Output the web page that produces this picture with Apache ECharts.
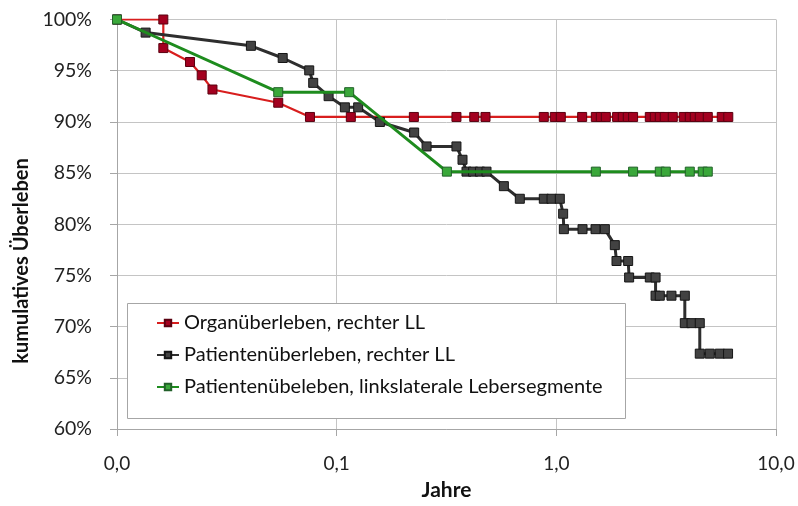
<!DOCTYPE html>
<html>
<head>
<meta charset="utf-8">
<script src="https://cdn.jsdelivr.net/npm/echarts@6/dist/echarts.min.js"></script>
<style>
html,body{margin:0;padding:0;background:#fff;}
#c{width:798px;height:506px;}
</style>
</head>
<body>
<div id="c"></div>
<script>
// ---- data ----
const seriesNames = [
  'Organüberleben, rechter LL',
  'Patientenüberleben, rechter LL',
  'Patientenübeleben, linkslaterale Lebersegmente'
];
const xTickLabels = ['0,0', '0,1', '1,0', '10,0'];
const yTicks = [60, 65, 70, 75, 80, 85, 90, 95, 100];

const organX = [0.01, 0.01625, 0.01625, 0.0215, 0.0243, 0.0272, 0.0542, 0.0756, 0.116, 0.2246, 0.351, 0.423, 0.476, 0.877, 0.984, 1.048, 1.311, 1.513, 1.594, 1.68, 1.891, 2.007, 2.115, 2.236, 2.664, 2.807, 2.958, 3.116, 3.389, 3.804, 4.051, 4.269, 4.498, 4.891, 5.663, 6.065];
const organY = [100, 100, 97.21, 95.85, 94.55, 93.16, 91.87, 90.48, 90.48, 90.48, 90.48, 90.48, 90.48, 90.48, 90.48, 90.48, 90.48, 90.48, 90.48, 90.48, 90.48, 90.48, 90.48, 90.48, 90.48, 90.48, 90.48, 90.48, 90.48, 90.48, 90.48, 90.48, 90.48, 90.48, 90.48, 90.48];

const patX = [0.01, 0.0135, 0.0407, 0.0568, 0.075, 0.0782, 0.0919, 0.109, 0.1253, 0.1573, 0.2253, 0.2566, 0.351, 0.374, 0.390, 0.418, 0.449, 0.481, 0.577, 0.682, 0.877, 0.951, 1.037, 1.074, 1.082, 1.316, 1.508, 1.663, 1.846, 1.879, 2.123, 2.145, 2.664, 2.83, 2.83, 2.958, 3.343, 3.845, 3.845, 4.125, 4.498, 4.498, 4.994, 5.546, 6.05];
const patY = [100, 98.72, 97.43, 96.24, 95.03, 93.81, 92.51, 91.42, 91.42, 89.99, 88.96, 87.60, 87.60, 86.30, 85.14, 85.14, 85.14, 85.14, 83.72, 82.49, 82.49, 82.49, 82.49, 81.03, 79.52, 79.52, 79.52, 79.52, 77.96, 76.41, 76.41, 74.80, 74.80, 74.80, 73.02, 73.02, 73.02, 73.02, 70.34, 70.34, 70.34, 67.36, 67.36, 67.36, 67.36];

const leftX = [0.01, 0.0542, 0.114, 0.3175, 1.513, 2.236, 2.958, 3.15, 4.05, 4.64, 4.89];
const leftY = [100, 92.9, 92.9, 85.14, 85.14, 85.14, 85.14, 85.14, 85.14, 85.14, 85.14];

const lineColors = ['#d81e1e', '#2e2e2e', '#1e8c1e'];
const markerFill = ['#a3001f', '#424242', '#3aa83a'];
const markerBorder = ['#5a0010', '#151515', '#22602a'];
const lineWidths = [2.2, 3, 3];

function pairs(xs, ys) { return xs.map((x, i) => [x, ys[i]]); }
const datasets = [pairs(organX, organY), pairs(patX, patY), pairs(leftX, leftY)];

const FONT = 'Lato';
const chart = echarts.init(document.getElementById('c'), null, {renderer: 'canvas'});
const option = {
  animation: false,
  backgroundColor: '#ffffff',
  grid: {left: 117, right: 22, top: 19.5, bottom: 74, containLabel: false},
  xAxis: {
    type: 'log', logBase: 10, min: 0.01, max: 10,
    axisLine: {show: true, onZero: false, lineStyle: {color: '#a6a6a6', width: 1}},
    axisTick: {show: true, length: 7, lineStyle: {color: '#a6a6a6'}},
    minorTick: {show: false},
    splitLine: {show: true, lineStyle: {color: '#c4c4c4', width: 1}},
    axisLabel: {
      margin: 25, color: '#222', fontFamily: FONT, fontSize: 19,
      formatter: function (v) {
        const idx = Math.round(Math.log10(v) + 2);
        return xTickLabels[idx] !== undefined ? xTickLabels[idx] : '';
      }
    },
    name: 'Jahre', nameLocation: 'middle', nameGap: 51,
    nameTextStyle: {fontFamily: FONT, fontWeight: 'bold', fontSize: 21, color: '#111'}
  },
  yAxis: {
    type: 'value', min: 60, max: 100, interval: 5,
    axisLine: {show: true, lineStyle: {color: '#a6a6a6', width: 1}},
    axisTick: {show: true, length: 7, lineStyle: {color: '#a6a6a6'}},
    splitLine: {show: true, lineStyle: {color: '#c4c4c4', width: 1}},
    axisLabel: {
      margin: 25, color: '#222', fontFamily: FONT, fontSize: 19.5,
      formatter: function (v) { return yTicks.indexOf(v) >= 0 ? v + '%' : ''; }
    }
  },
  graphic: [
    {
      type: 'text', rotation: Math.PI / 2,
      x: 22, y: 261,
      style: {text: 'kumulatives Überleben', font: 'bold 20px ' + FONT, fill: '#111', textAlign: 'center', textVerticalAlign: 'middle'}
    },
    {
      type: 'rect', left: 127, top: 303, z: 5,
      shape: {width: 498, height: 115},
      style: {fill: '#ffffff', stroke: '#a6a6a6', lineWidth: 1}
    }
  ],
  legend: {
    left: 151, top: 308, orient: 'vertical', itemGap: 12,
    itemWidth: 22, itemHeight: 8, z: 10,
    textStyle: {fontFamily: FONT, fontSize: 20, color: '#111'},
    data: seriesNames
  },
  series: seriesNames.map((n, i) => ({
    name: n, type: 'line', data: datasets[i],
    symbol: 'rect', symbolSize: 9, showAllSymbol: true,
    lineStyle: {color: lineColors[i], width: lineWidths[i]},
    itemStyle: {color: markerFill[i], borderColor: markerBorder[i], borderWidth: 1},
    emphasis: {disabled: true},
    z: 2 + i
  }))
};
chart.setOption(option);
</script>
</body>
</html>
